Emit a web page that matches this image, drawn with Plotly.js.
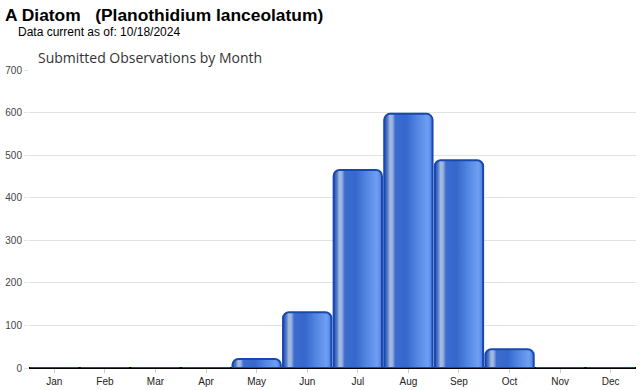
<!DOCTYPE html>
<html><head><meta charset="utf-8">
<script src="https://cdn.plot.ly/plotly-3.0.1.min.js"></script>
<style>html,body{margin:0;padding:0;background:#fff}#chart{width:640px;height:390px}</style>
</head><body><div id="chart"></div>
<script>
const months = ["Jan","Feb","Mar","Apr","May","Jun","Jul","Aug","Sep","Oct","Nov","Dec"];
const observations = [0,0,0,0,21,131,465,597,488,44,0,0];
const yTicks = [0,100,200,300,400,500,600,700];
const titleText = "A Diatom   (Planothidium lanceolatum)";
const subText = "Data current as of: 10/18/2024";
const chartTitle = "Submitted Observations by Month";

const trace = {
  type: "bar", x: months, y: observations,
  width: 0.955,
  marker: {color: "#3d6fd4", line: {color: "#1847b0", width: 2}, cornerradius: 6},
  hoverinfo: "x+y"
};
const layout = {
  width: 640, height: 390,
  margin: {l: 29, r: 4, t: 70, b: 22},
  paper_bgcolor: "#fff", plot_bgcolor: "#fff",
  showlegend: false,
  xaxis: {type: "category", categoryarray: months, tickfont: {family: "Liberation Sans, Arial", size: 10, color: "#222"},
          ticks: "outside", ticklen: 4, tickcolor: "#ccc", showgrid: false, zeroline: false, fixedrange: true},
  yaxis: {range: [0, 700], tickvals: yTicks, tickfont: {family: "Liberation Sans, Arial", size: 10, color: "#444"},
          gridcolor: "#e2e2e2", gridwidth: 1, ticks: "outside", ticklen: 4, tickcolor: "#e2e2e2",
          zeroline: true, zerolinecolor: "#000", zerolinewidth: 1.6, showline: false, fixedrange: true},
  annotations: [
    {text: "<b>" + titleText + "</b>", xref: "paper", yref: "paper", x: -26/607, y: 1 + 55/298, xanchor: "left", yanchor: "middle",
     showarrow: false, font: {family: "Liberation Sans, Arial", size: 17.4, color: "#000"}},
    {text: subText, xref: "paper", yref: "paper", x: -13/607, y: 1 + 38/298, xanchor: "left", yanchor: "middle",
     showarrow: false, font: {family: "Liberation Sans, Arial", size: 12, color: "#000"}},
    {text: chartTitle, xref: "paper", yref: "paper", x: 7/607, y: 1 + 13/298, xanchor: "left", yanchor: "middle",
     showarrow: false, font: {family: "Open Sans, DejaVu Sans", size: 14, color: "#333"}}
  ]
};
Plotly.newPlot("chart", [trace], layout, {displayModeBar: false, staticPlot: true}).then(function(gd){
  const svg = gd.querySelector("svg.main-svg");
  let defs = svg.querySelector("defs");
  const ns = "http://www.w3.org/2000/svg";
  if (!defs) { defs = document.createElementNS(ns, "defs"); svg.insertBefore(defs, svg.firstChild); }
  const g = document.createElementNS(ns, "linearGradient");
  g.setAttribute("id", "barGrad"); g.setAttribute("x1", "0"); g.setAttribute("x2", "1"); g.setAttribute("y1", "0"); g.setAttribute("y2", "0");
  const stops = [[0,"#2453b4"],[0.06,"#4a74c6"],[0.12,"#a6bbe0"],[0.17,"#9ab2de"],[0.23,"#3d6cd0"],[0.45,"#3567cc"],[0.7,"#5688e4"],[0.9,"#6e9ff2"],[1,"#4a7ede"]];
  stops.forEach(function(s){ const st = document.createElementNS(ns, "stop"); st.setAttribute("offset", s[0]); st.setAttribute("stop-color", s[1]); g.appendChild(st); });
  defs.appendChild(g);
  gd.querySelectorAll(".bars .point path").forEach(function(p){ p.style.fill = "url(#barGrad)"; });
});
</script></body></html>
